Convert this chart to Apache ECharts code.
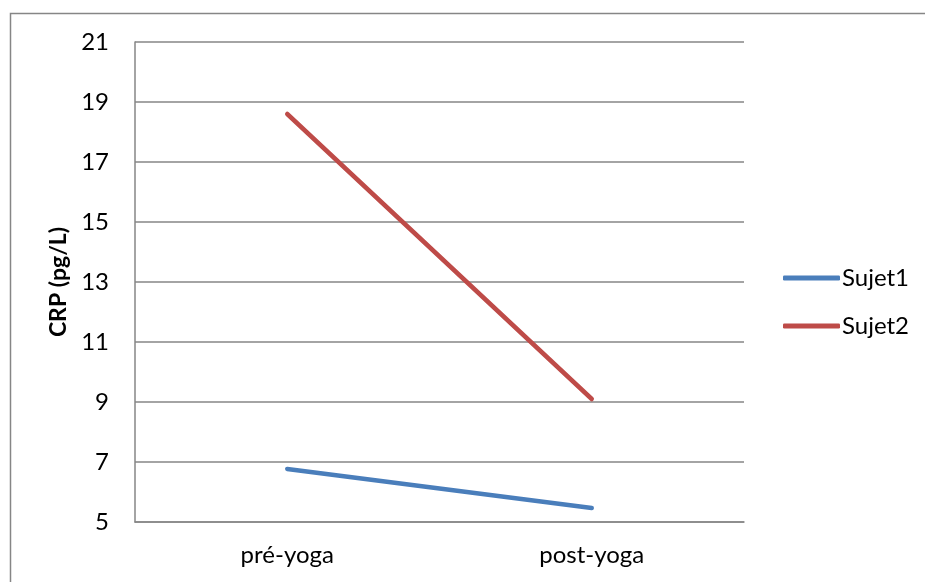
<!DOCTYPE html>
<html>
<head>
<meta charset="utf-8">
<script src="https://cdn.jsdelivr.net/npm/echarts@6/dist/echarts.min.js"></script>
<style>
  html, body { margin: 0; padding: 0; background: #fff; }
  #chart { width: 925px; height: 582px; }
</style>
</head>
<body>
<div id="chart"></div>
<script>
// CRP before and after yoga, per subject
const categories = ['pré-yoga', 'post-yoga'];
const sujet1 = [6.77, 5.47];
const sujet2 = [18.6, 9.1];
const seriesNames = ['Sujet1', 'Sujet2'];
const yTitle = 'CRP (pg/L)';

const FONT = 'Lato, "Open Sans", sans-serif';
const GREY = '#868686';

const chart = echarts.init(document.getElementById('chart'), null, { renderer: 'canvas' });

chart.setOption({
  animation: false,
  backgroundColor: '#fff',
  textStyle: { fontFamily: FONT },
  graphic: [{
    // chart-area frame (top and left edges)
    type: 'polyline',
    silent: true,
    shape: { points: [[10.5, 600], [10.5, 13.5], [940, 13.5]] },
    style: { fill: 'none', stroke: GREY, lineWidth: 1.5 }
  }],
  grid: { left: 135, right: 181, top: 42, bottom: 60, containLabel: false },
  legend: {
    orient: 'vertical',
    left: 778,
    top: 261,
    itemWidth: 57,
    itemHeight: 5,
    itemGap: 24,
    icon: 'roundRect',
    textStyle: { fontFamily: FONT, fontSize: 24, color: '#000', padding: [0, 0, 0, -3] },
    data: seriesNames
  },
  xAxis: {
    type: 'category',
    data: categories,
    boundaryGap: true,
    axisLine: { show: true, lineStyle: { color: GREY, width: 1.5 } },
    axisTick: { show: false },
    axisLabel: { color: '#000', fontSize: 24, margin: 21, fontFamily: FONT },
    splitLine: { show: false }
  },
  yAxis: {
    type: 'value',
    min: 5,
    max: 21,
    interval: 2,
    name: yTitle,
    nameLocation: 'middle',
    nameGap: 65,
    nameRotate: 90,
    nameTextStyle: { color: '#000', fontSize: 23, fontWeight: 'bold', fontFamily: FONT },
    axisLine: { show: true, lineStyle: { color: GREY, width: 1.5 } },
    axisTick: { show: false },
    axisLabel: { color: '#000', fontSize: 24, margin: 26, fontFamily: FONT },
    splitLine: { show: true, lineStyle: { color: GREY, width: 1.5 } }
  },
  series: [
    {
      name: seriesNames[0],
      type: 'line',
      data: sujet1,
      symbol: 'none',
      color: '#4A7EBB',
      lineStyle: { color: '#4A7EBB', width: 4.5, cap: 'round' }
    },
    {
      name: seriesNames[1],
      type: 'line',
      data: sujet2,
      symbol: 'none',
      color: '#BE4B48',
      lineStyle: { color: '#BE4B48', width: 4.5, cap: 'round' }
    }
  ]
});
</script>
</body>
</html>
